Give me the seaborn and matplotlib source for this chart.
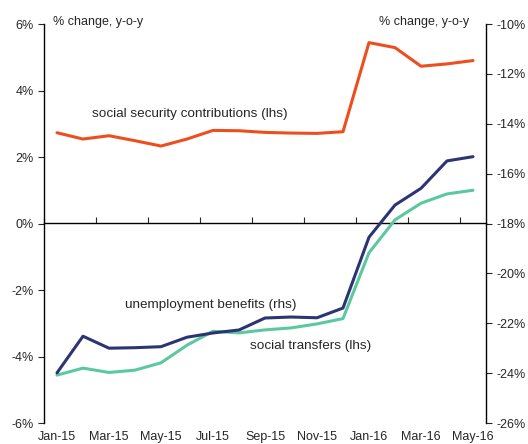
import seaborn as sns
import matplotlib.pyplot as plt
import pandas as pd

months = ['Jan-15', 'Feb-15', 'Mar-15', 'Apr-15', 'May-15', 'Jun-15', 'Jul-15', 'Aug-15',
          'Sep-15', 'Oct-15', 'Nov-15', 'Dec-15', 'Jan-16', 'Feb-16', 'Mar-16', 'Apr-16', 'May-16']
social_security = [2.73, 2.54, 2.64, 2.49, 2.33, 2.54, 2.80, 2.79, 2.74, 2.72, 2.71, 2.76,
                   5.44, 5.29, 4.73, 4.80, 4.90]
social_transfers = [-4.56, -4.35, -4.48, -4.41, -4.19, -3.66, -3.24, -3.29, -3.20, -3.14, -3.02, -2.86,
                    -0.88, 0.11, 0.61, 0.89, 1.00]
unemployment = [-23.99, -22.52, -23.00, -22.98, -22.94, -22.56, -22.39, -22.27, -21.79, -21.75, -21.78, -21.39,
                -18.55, -17.26, -16.59, -15.49, -15.32]

left_ticks = [-6, -4, -2, 0, 2, 4, 6]
right_ticks = [-26, -24, -22, -20, -18, -16, -14, -12, -10]

df = pd.DataFrame({'idx': range(len(months)), 'month': months,
                   'ssc': social_security, 'st': social_transfers, 'ub': unemployment})

sns.set_style('white')
plt.rcParams['font.family'] = ['Liberation Sans', 'DejaVu Sans']
plt.rcParams['font.size'] = 9

fig = plt.figure(figsize=(5.28, 4.44), dpi=100)
ax = fig.add_axes([44 / 528, 1 - 423 / 444, 442 / 528, 399 / 444])
ax2 = ax.twinx()

orange = '#EE4E1E'
navy = '#2D3473'
teal = '#5CC8A0'
lw = 2.2

sns.lineplot(data=df, x='idx', y='ssc', ax=ax, color=orange, linewidth=lw)
sns.lineplot(data=df, x='idx', y='st', ax=ax, color=teal, linewidth=lw)
sns.lineplot(data=df, x='idx', y='ub', ax=ax2, color=navy, linewidth=lw)

ax.set_xlim(-0.5, len(months) - 0.5)
ax.set_ylim(-6, 6)
ax2.set_ylim(-26, -10)
ax.set_yticks(left_ticks)
ax.set_yticklabels([f'{t}%' for t in left_ticks])
ax2.set_yticks(right_ticks)
ax2.set_yticklabels([f'{t}%' for t in right_ticks])
ax.set_xlabel('')
ax.set_ylabel('')
ax2.set_ylabel('')

ax.set_xticks(range(0, len(months), 2))
ax.set_xticklabels(months[::2])
ax.tick_params(axis='x', length=0, pad=6, labelsize=9)
ax.tick_params(axis='y', direction='out', length=4, width=0.8, pad=3.5, labelsize=9, left=True)
ax2.tick_params(axis='y', direction='out', length=4, width=0.8, pad=3.5, labelsize=9, right=True)

for a in (ax, ax2):
    a.spines['top'].set_visible(False)
    a.spines['bottom'].set_visible(False)
    a.spines['left'].set_color('black')
    a.spines['right'].set_color('black')
    a.spines['left'].set_linewidth(1.0)
    a.spines['right'].set_linewidth(1.0)
ax2.spines['left'].set_visible(False)
ax.spines['right'].set_visible(False)

# zero line with month-boundary ticks
sec = ax.secondary_xaxis(0.5)
sec.set_xticks([i - 0.5 for i in range(0, len(months) + 1, 2)])
sec.tick_params(axis='x', direction='out', length=4, width=0.8,
                labeltop=False, labelbottom=False)
for s in sec.spines.values():
    s.set_color('black')
    s.set_linewidth(1.0)

ax.text(5.1, 3.3, 'social security contributions (lhs)', ha='center', va='center', fontsize=9.7)
ax.text(5.93, -2.45, 'unemployment benefits (rhs)', ha='center', va='center', fontsize=9.7)
ax.text(9.77, -3.68, 'social transfers (lhs)', ha='center', va='center', fontsize=9.7)

fig.text(53 / 528, 1 - 24.7 / 444, '% change, y-o-y', ha='left', va='baseline', fontsize=9)
fig.text(469 / 528, 1 - 24.7 / 444, '% change, y-o-y', ha='right', va='baseline', fontsize=9)

fig.savefig('out.png', dpi=100)
